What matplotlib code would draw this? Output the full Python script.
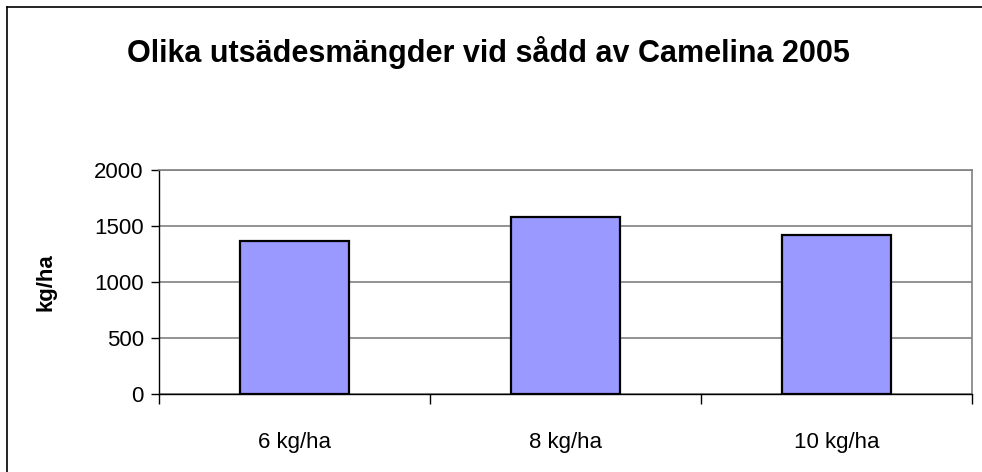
import matplotlib
matplotlib.use("Agg")
import matplotlib.pyplot as plt
from matplotlib.lines import Line2D

# data
categories = ["6 kg/ha", "8 kg/ha", "10 kg/ha"]
yields = [1368, 1581, 1418]
y_ticks = [0, 500, 1000, 1500, 2000]

plt.rcParams["font.family"] = ["Liberation Sans", "DejaVu Sans"]

fig = plt.figure(figsize=(9.82, 4.72), dpi=100)
ax = fig.add_axes([0.1619, 0.1646, 0.8279, 0.4759])

x = list(range(len(categories)))
ax.bar(x, yields, width=0.4, color="#9999FF", edgecolor="black", linewidth=1.6, zorder=3)

ax.set_xlim(-0.5, len(categories) - 0.5)
ax.set_ylim(0, 2000)
ax.set_yticks(y_ticks)
ax.set_yticklabels([str(v) for v in y_ticks], fontsize=16)
ax.yaxis.grid(True, color="#808080", linewidth=1.2, zorder=0)

ax.set_xticks(x)
ax.set_xticklabels(categories, fontsize=16)
ax.tick_params(axis="x", which="major", length=0, pad=27)
ax.set_xticks([i - 0.5 for i in range(len(categories) + 1)], minor=True)
ax.tick_params(axis="x", which="minor", length=7, width=1, direction="out")
ax.tick_params(axis="y", length=6, width=1, direction="out", pad=5)

for side in ["top", "right"]:
    ax.spines[side].set_color("#808080")
    ax.spines[side].set_linewidth(1.2)
for side in ["left", "bottom"]:
    ax.spines[side].set_color("black")
    ax.spines[side].set_linewidth(1.0)

ax.set_ylabel("kg/ha", fontsize=16, fontweight="bold", labelpad=27)

fig.text(0.497, 0.888, "Olika utsädesmängder vid sådd av Camelina 2005",
         ha="center", va="center", fontsize=22, fontweight="bold")

# chart frame (only left and top edges visible in the reference)
fig.add_artist(Line2D([0.0075, 0.0075], [0.0, 0.985], transform=fig.transFigure, color="black", linewidth=1.2))
fig.add_artist(Line2D([0.0075, 1.0], [0.985, 0.985], transform=fig.transFigure, color="black", linewidth=1.2))

fig.savefig("out.png", dpi=100)
